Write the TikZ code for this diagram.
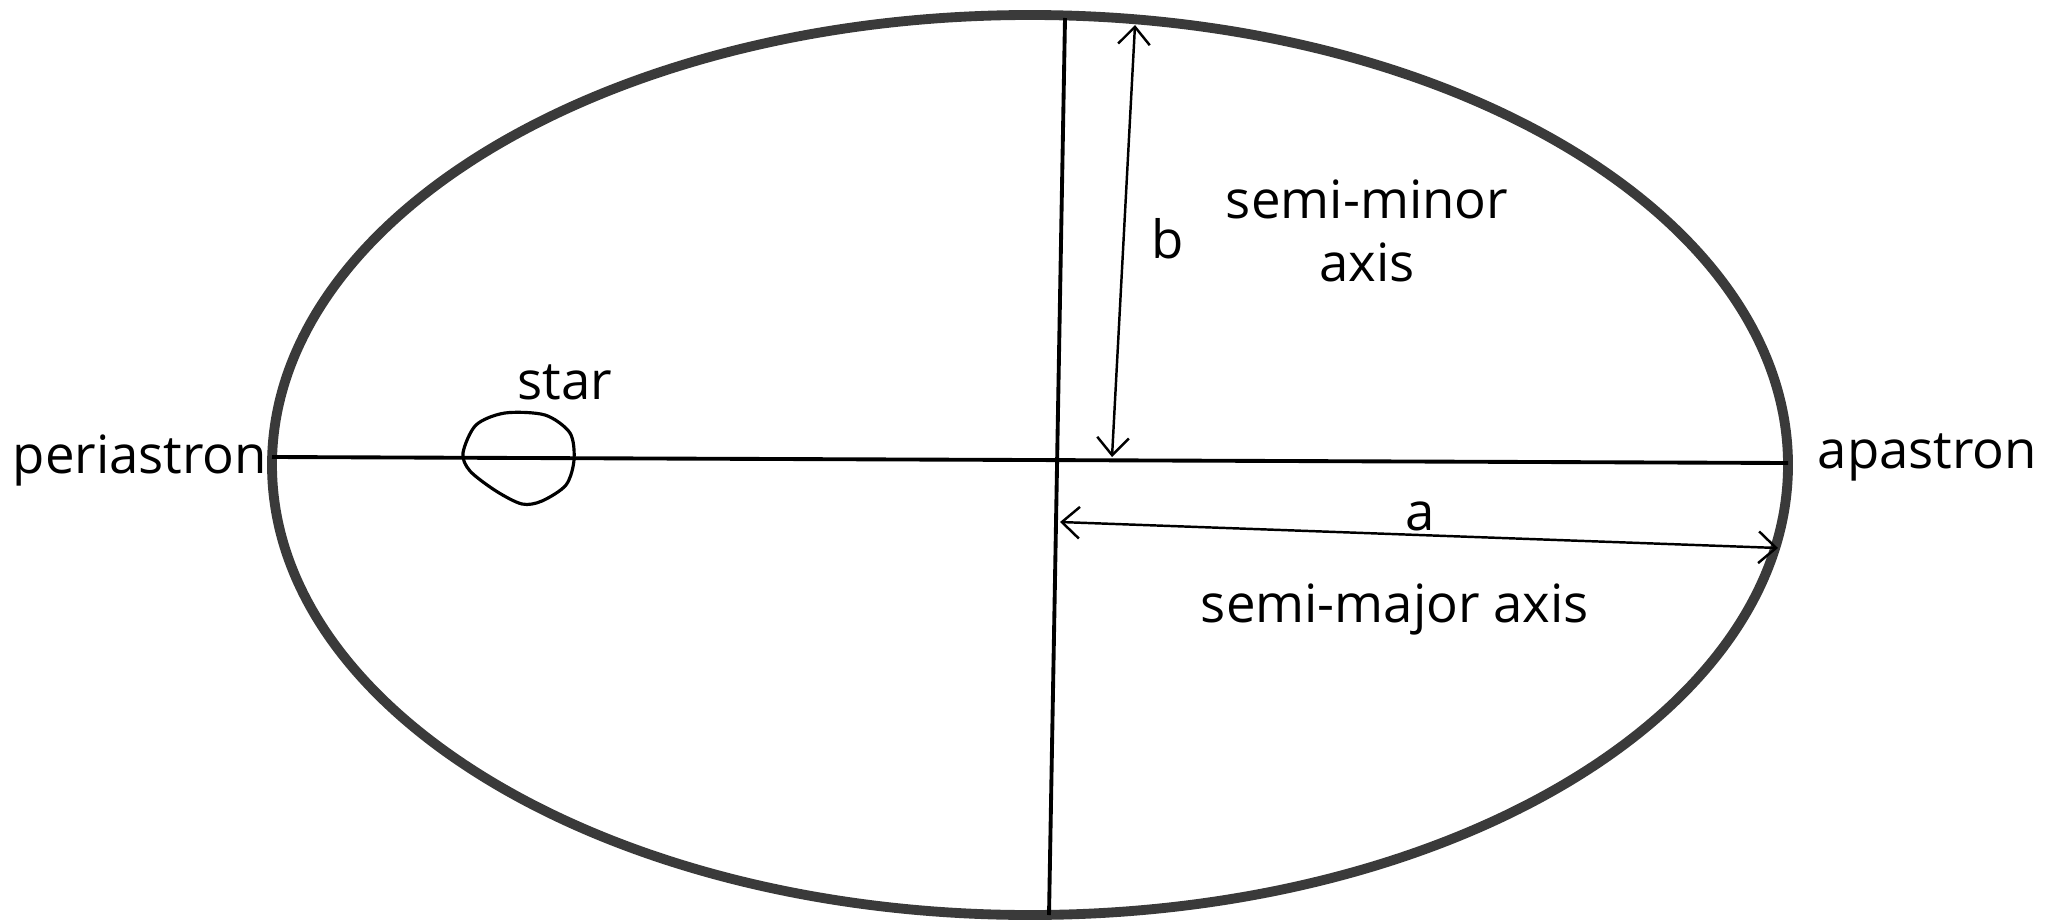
\documentclass[tikz,border=0pt]{standalone}
\usepackage{xcolor}
\usepackage{fontspec}
\setmainfont{Open Sans}
\usetikzlibrary{arrows.meta,positioning}
\definecolor{orbitgray}{HTML}{3A3A3A}

\begin{document}
\begin{tikzpicture}[font=\fontsize{15}{18}\selectfont,
  orbit/.style={line width=2.8pt, orbitgray},
  axisline/.style={line width=1.1pt, black},
  dimarrow/.style={line width=0.7pt, {Straight Barb[length=5pt,width=9pt]}-{Straight Barb[length=5pt,width=9pt]}},
  lbl/.style={inner sep=0pt}]
  \useasboundingbox (0,0) rectangle (20.53,9.23);
  % orbit and axes
  \draw[orbit] (10.30,4.58) ellipse (7.58 and 4.50);
  \coordinate (peri) at (2.72,4.66);
  \coordinate (apo) at (17.88,4.60);
  \coordinate (top) at (10.65,9.05);
  \coordinate (bottom) at (10.49,0.08);
  \draw[axisline] (peri) -- (apo);
  \draw[axisline] (top) -- (bottom);
  % the star
  \draw[line width=0.9pt] plot[smooth cycle] coordinates {(4.63,4.70) (4.76,4.98) (5.05,5.10) (5.45,5.08) (5.70,4.90) (5.74,4.63) (5.66,4.38) (5.42,4.22) (5.22,4.19) (4.96,4.32) (4.70,4.52)};
  % dimension arrows
  \coordinate (btop) at (11.35,8.98);
  \coordinate (bbot) at (11.12,4.66);
  \coordinate (aleft) at (10.60,4.01);
  \coordinate (aright) at (17.78,3.75);
  \draw[dimarrow] (bbot) -- (btop);
  \draw[dimarrow] (aleft) -- (aright);
  % labels
  \node[lbl, anchor=base west] (perilbl) at (0.12,4.50) {periastron};
  \node[lbl, anchor=base west] (apolbl) at (18.17,4.55) {apastron};
  \node[lbl, anchor=base west] (starlbl) at (5.17,5.24) {star};
  \node[lbl, anchor=base] (blbl) at (11.68,6.65) {b};
  \node[lbl, align=center] (minorlbl) at (13.67,6.92) {semi-minor\\axis};
  \node[lbl, anchor=base] (albl) at (14.20,3.93) {a};
  \node[lbl, anchor=base] (majorlbl) at (13.95,3.01) {semi-major axis};
\end{tikzpicture}
\end{document}
